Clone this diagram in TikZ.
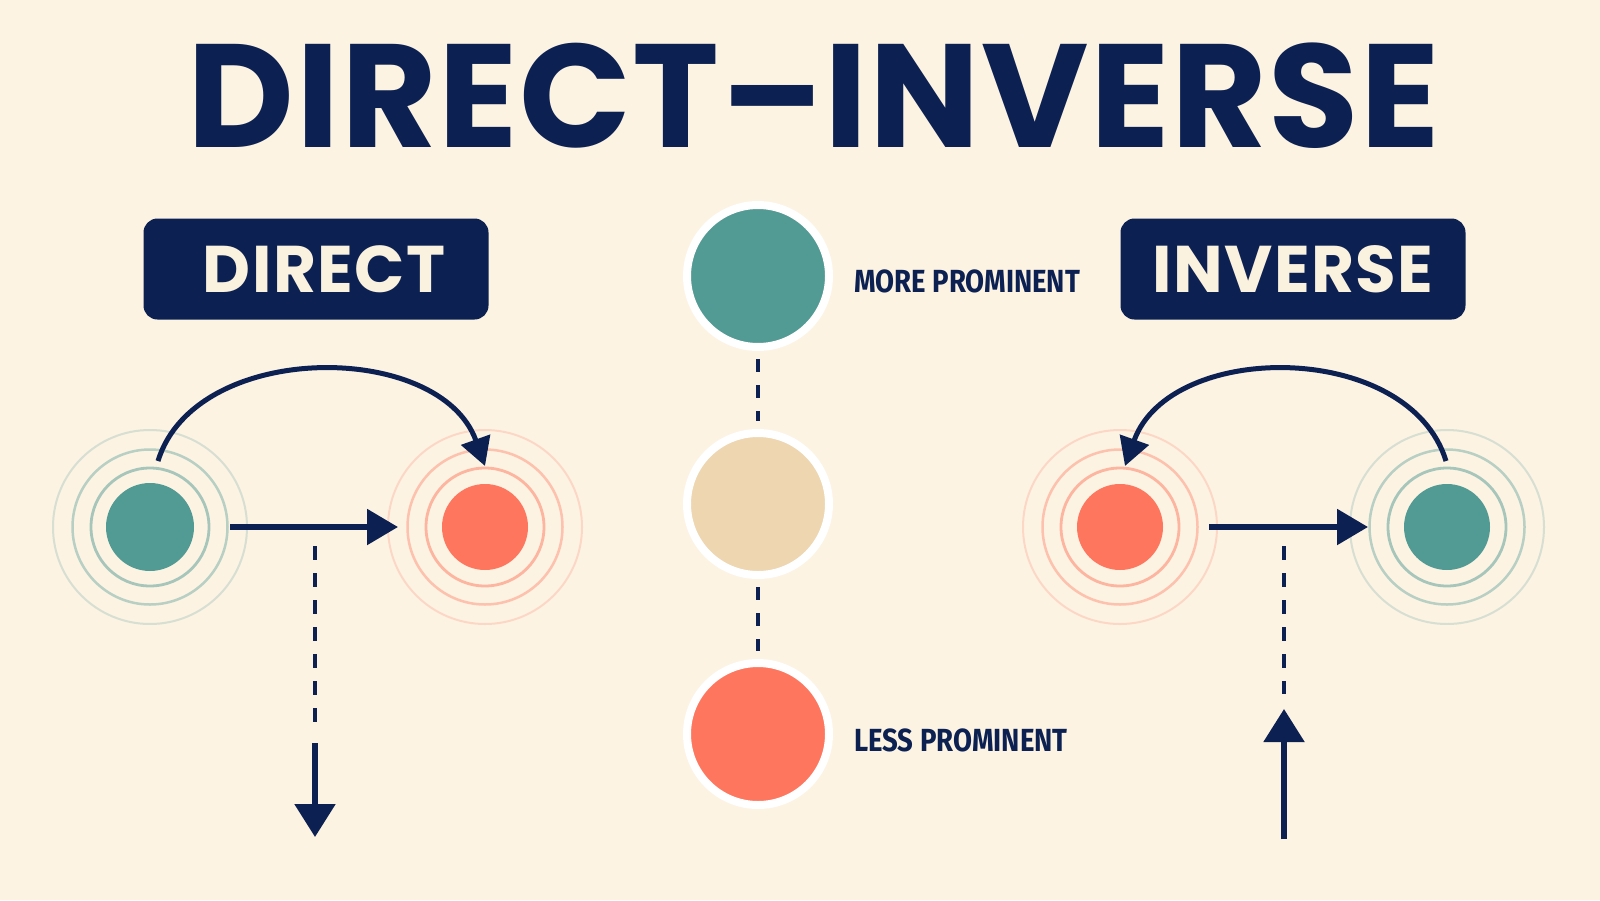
\documentclass[tikz,border=0pt]{standalone}
\usepackage{fontspec}
\usepackage{tikz}
\usetikzlibrary{arrows.meta,positioning}

\newfontfamily\titlefont[LetterSpace=1]{Poppins}
\newfontfamily\tagfont[LetterSpace=2]{Poppins}
\newfontfamily\notefont[FakeStretch=0.86]{Fira Sans}

\definecolor{navy}{HTML}{0C2152}
\definecolor{paper}{HTML}{FCF3E3}
\definecolor{cream}{HTML}{FAF1DE}
\definecolor{teal}{HTML}{529A94}
\definecolor{salmon}{HTML}{FF765E}
\definecolor{beige}{HTML}{EDD6B0}

\begin{document}
\begin{tikzpicture}[x=1pt,y=-1pt]
			\fill[paper] (0,0) rectangle (1600,900);
			\begin{scope}
				[
					styleDot/.style={circle, minimum size=#1, inner sep=0pt, outer sep=0pt},
					styleBall/.style={circle, minimum size=142pt, draw=white, line width=8pt,
						inner sep=0pt, outer sep=0pt},
					styleTag/.style={fill=navy, rounded corners=14pt, minimum width=345pt,
						minimum height=101pt, text=cream,
						font=\tagfont\bfseries\fontsize{66}{66}\selectfont},
					styleNote/.style={inner sep=0pt, text=navy,
						font=\notefont\bfseries\fontsize{32}{32}\selectfont},
				]
				\node(title)[inner sep=0pt, text=navy,
					font=\titlefont\bfseries\fontsize{147}{147}\selectfont] at (814,96) {DIRECT–INVERSE};

				\node(dtag)[styleTag] at (316,269) {\kern16pt DIRECT};
				\node(itag)[styleTag] at (1293,269) {INVERSE};

				\node(morec)[styleBall, fill=teal] at (758,276) {};
				\node(midc)[styleBall, fill=beige] at (758,504) {};
				\node(lessc)[styleBall, fill=salmon] at (758,734) {};
				\node(morelbl)[styleNote, right=25pt of morec, yshift=-5pt] {MORE PROMINENT};
				\node(lesslbl)[styleNote, right=25pt of lessc, yshift=-6pt] {LESS PROMINENT};

				\node(dteal)[styleDot=88pt, fill=teal] at (150,527) {};
				\node(dred)[styleDot=86pt, fill=salmon] at (485,527) {};
				\node(ired)[styleDot=86pt, fill=salmon] at (1120,527) {};
				\node(iteal)[styleDot=86pt, fill=teal] at (1447,527) {};

				\foreach \n/\c in {dteal/teal, dred/salmon, ired/salmon, iteal/teal}
					\foreach \r/\k/\w in {59/50/2.8, 77.5/40/2.5, 97/22/2}
						\draw[\c!\k!paper, line width=\w pt] (\n) circle[radius=\r];

				\coordinate(dfrom) at ([shift={(8,-66)}]dteal);
				\coordinate(dto) at ([shift={(0,-61)}]dred);
				\coordinate(ifrom) at ([shift={(-1,-66)}]iteal);
				\coordinate(ito) at ([shift={(5,-61)}]ired);

				\coordinate(dtop) at (315,546);
				\coordinate(dend) at (315,722);
				\coordinate(dshaft) at (315,743);
				\coordinate(dtip) at (315,837);
				\coordinate(itop) at (1284,546);
				\coordinate(iend) at (1284,694);
				\coordinate(ishaft) at (1284,839);
				\coordinate(itip) at (1284,709);
			\end{scope}
			\begin{scope}
				[ flow/.style = {draw=navy, line width=5.5pt, -{Triangle[length=31pt, width=35pt]}},
				rise/.style = {draw=navy, line width=5.5pt, -{Triangle[length=33pt, width=40pt]}},
				swap/.style = {draw=navy, line width=5pt, -{Triangle[length=28pt, width=30pt]}},
				gap/.style = {draw=navy, line width=4pt, dash pattern=on 13pt off 13pt}]
				\path
				(morec) edge[gap, shorten <=12pt, shorten >=12pt]	(midc)
				(midc) edge[gap, shorten <=12pt, shorten >=12pt]	(lessc)

				(dteal) edge[flow, shorten <=36pt, shorten >=44pt]	(dred)
				(ired) edge[flow, shorten <=46pt, shorten >=36pt]	(iteal)

				(dtop) edge[gap, dash pattern=on 14pt off 13pt]		(dend)
				(dshaft) edge[rise]					(dtip)
				(itop) edge[gap, dash pattern=on 14pt off 13pt]		(iend)
				(ishaft) edge[rise]					(itip);

				\draw[swap] (dfrom) .. controls +(37,-121) and +(-45,-126) .. (dto);
				\draw[swap] (ifrom) .. controls +(-37,-121) and +(45,-126) .. (ito);
			\end{scope}
\end{tikzpicture}
\end{document}
